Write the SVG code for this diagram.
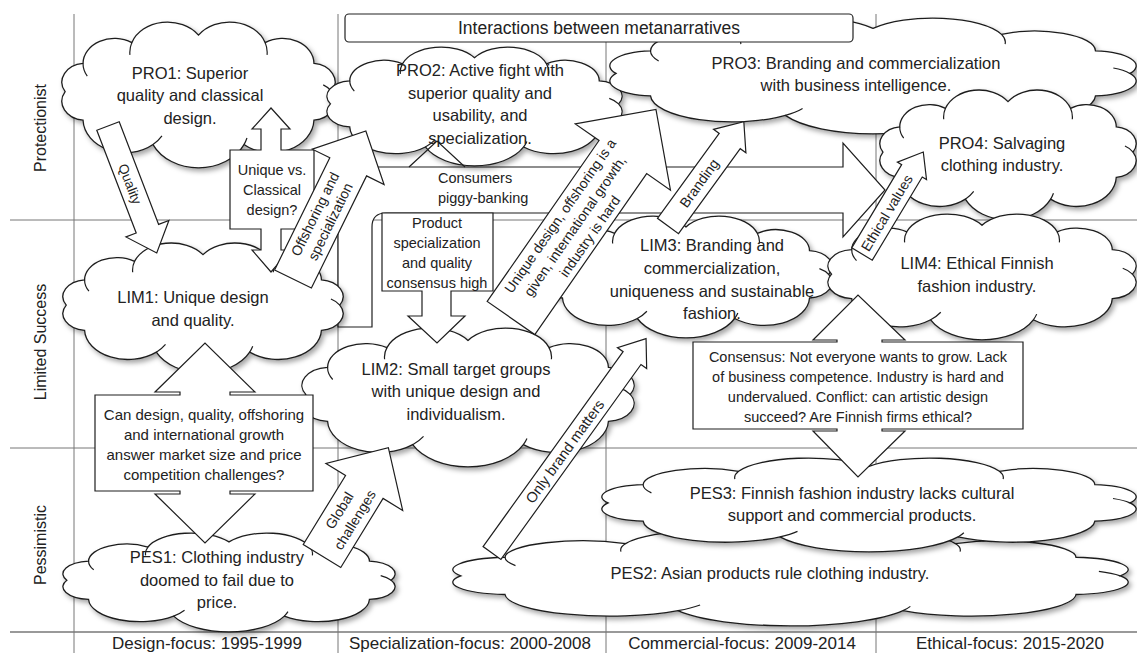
<svg xmlns="http://www.w3.org/2000/svg" width="1137" height="653" viewBox="0 0 1137 653">
<style>
 .grid{stroke:#777;stroke-width:1;fill:none}
 .cl{fill:#fff;stroke:#1e1e1e;stroke-width:1.3}
 .ci{fill:none;stroke:#1e1e1e;stroke-width:1.2}
 .ar{fill:#fff;stroke:#1e1e1e;stroke-width:1.2;stroke-linejoin:miter}
 text{font-family:"Liberation Sans",Arial,sans-serif;fill:#222}
 .c{font-size:16.5px;text-anchor:middle}
 .b{font-size:14.5px;text-anchor:middle}
 .a{font-size:14px;text-anchor:middle}
 .ax{font-size:17px;text-anchor:middle}
 .rl{font-size:16px;text-anchor:middle}
</style>
<defs>
 <filter id="sh" x="-10%" y="-15%" width="125%" height="140%">
  <feDropShadow dx="2.5" dy="3" stdDeviation="2.5" flood-color="#000" flood-opacity="0.35"/>
 </filter>
 <g id="cloud">
  <path class="cl" vector-effect="non-scaling-stroke" d="M15,60 A15,15 0 0,1 26.4,37.5 A20,20 0 0,1 57.5,21 A24,24 0 0,1 100,15 A24,24 0 0,1 142.5,21 A20,20 0 0,1 173.6,37.5 A15,15 0 0,1 185,60 A15,15 0 0,1 173.6,82.5 A27,27 0 0,1 129,102 A32,32 0 0,1 71,102 A27,27 0 0,1 26.4,82.5 A15,15 0 0,1 15,60 Z"/>
  <path class="ci" vector-effect="non-scaling-stroke" d="M26.4,37.5 A20,20 0 0,0 29.1,47.6 M57.5,21 A24,24 0 0,0 56.3,30.7 M142.5,21 A24,24 0 0,1 143.7,30.7 M185,60 A15,15 0 0,0 179.5,54.6 M129,102 A32,32 0 0,0 130.9,96.8 M71,102 A27,27 0 0,0 76.7,95.1"/>
 </g>
</defs>
<rect width="1137" height="653" fill="#fff"/>
<g id="grid" class="grid">
 <line x1="10" y1="220" x2="1137" y2="220"/>
 <line x1="10" y1="448" x2="1137" y2="448"/>
 <line x1="10" y1="632" x2="1137" y2="632" stroke-width="1.5"/>
 <line x1="74" y1="14" x2="74" y2="653"/>
 <line x1="338" y1="14" x2="338" y2="653"/>
 <line x1="606" y1="14" x2="606" y2="653"/>
 <line x1="876" y1="14" x2="876" y2="653"/>
</g>
<g id="row-labels">
 <text class="rl" transform="translate(46,128) rotate(-90)">Protectionist</text>
 <text class="rl" transform="translate(46,342) rotate(-90)">Limited Success</text>
 <text class="rl" transform="translate(46,545) rotate(-90)">Pessimistic</text>
</g>
<g id="column-labels">
 <text class="ax" x="207" y="649">Design-focus: 1995-1999</text>
 <text class="ax" x="470" y="649">Specialization-focus: 2000-2008</text>
 <text class="ax" x="742" y="649">Commercial-focus: 2009-2014</text>
 <text class="ax" x="1010" y="649">Ethical-focus: 2015-2020</text>
</g>
<g id="connectors">
 <g id="arrow-consumers">
  <path class="ar" d="M338,327 L338,190 Q338,167 361,167 L843,167 L843,143 L885,190 L843,237 L843,213 L386,213 Q372,213 372,227 L372,327 Z"/>
  <text x="438" y="183" style="font-size:14.5px">Consumers</text>
  <text x="438" y="203" style="font-size:14.5px">piggy-banking</text>
 </g>
</g>
<g id="PRO1"><g filter="url(#sh)"><use href="#cloud" transform="translate(41.6,16.2) scale(1.569,1.2586)"/></g>
 <text class="c" x="190" y="79">PRO1: Superior</text><text class="c" x="190" y="101">quality and classical</text><text class="c" x="190" y="124">design.</text></g>
<g id="PRO2"><g filter="url(#sh)"><use href="#cloud" transform="translate(305,42.3) scale(1.695,1.026)"/></g>
 <text class="c" x="480" y="76">PRO2: Active fight with</text><text class="c" x="480" y="99">superior quality and</text><text class="c" x="480" y="121">usability, and</text><text class="c" x="480" y="144">specialization.</text></g>
<g id="PRO3"><g filter="url(#sh)"><use href="#cloud" transform="translate(570.7,13.4) scale(3.023,1)"/></g>
 <text class="c" x="856" y="69">PRO3: Branding and commercialization</text><text class="c" x="856" y="91">with business intelligence.</text></g>
<g id="PRO4"><g filter="url(#sh)"><use href="#cloud" transform="translate(860.9,84.8) scale(1.471,1.121)"/></g>
 <text class="c" x="1002" y="149">PRO4: Salvaging</text><text class="c" x="1002" y="171">clothing industry.</text></g>
<g id="title">
 <rect x="345" y="14" width="508" height="28" rx="4" fill="#fff" stroke="#222" stroke-width="1.2"/>
 <text x="599" y="34" style="font-size:17.5px;text-anchor:middle">Interactions between metanarratives</text>
</g>
<g id="LIM1"><g filter="url(#sh)"><use href="#cloud" transform="translate(42.1,237.8) scale(1.609,1.121)"/></g>
 <text class="c" x="193" y="303">LIM1: Unique design</text><text class="c" x="193" y="326">and quality.</text></g>
<g id="LIM2"><g filter="url(#sh)"><use href="#cloud" transform="translate(277.2,322.5) scale(1.908,1.198)"/></g>
 <text class="c" x="456" y="375">LIM2: Small target groups</text><text class="c" x="456" y="397">with unique design and</text><text class="c" x="456" y="420">individualism.</text></g>
<g id="LIM3"><g filter="url(#sh)"><use href="#cloud" transform="translate(518.2,211.2) scale(1.678,1.052)"/></g>
 <text class="c" x="712" y="251">LIM3: Branding and</text><text class="c" x="712" y="274">commercialization,</text><text class="c" x="712" y="297">uniqueness and sustainable</text><text class="c" x="712" y="319">fashion.</text></g>
<g id="LIM4"><g filter="url(#sh)"><use href="#cloud" transform="translate(805,209) scale(1.77,1.086)"/></g>
 <text class="c" x="977" y="269">LIM4: Ethical Finnish</text><text class="c" x="977" y="292">fashion industry.</text></g>
<g id="PES2"><g filter="url(#sh)"><use href="#cloud" transform="translate(402.6,526.2) scale(3.879,0.828)"/></g>
 <text class="c" x="770" y="579">PES2: Asian products rule clothing industry.</text></g>
<g id="PES3"><g filter="url(#sh)"><use href="#cloud" transform="translate(562.1,454.3) scale(3.069,0.81)"/></g>
 <text class="c" x="852" y="499">PES3: Finnish fashion industry lacks cultural</text><text class="c" x="852" y="521">support and commercial products.</text></g>
<g id="PES1"><g filter="url(#sh)"><use href="#cloud" transform="translate(38.2,529.1) scale(1.908,0.853)"/></g>
 <text class="c" x="217" y="563">PES1: Clothing industry</text><text class="c" x="217" y="586">doomed to fail due to</text><text class="c" x="217" y="608">price.</text></g>
<g id="callout-product">
 <polyline class="ar" style="fill:none" points="409,167 437,141 465,167"/>
 <polygon class="ar" points="382,213 493,213 493,291 451,291 451,316 465,316 437,343 408,316 422,316 422,291 382,291"/>
 <text class="b" x="437" y="228">Product</text><text class="b" x="437" y="248">specialization</text><text class="b" x="437" y="268">and quality</text><text class="b" x="437" y="288">consensus high</text>
</g>
<g id="callout-unique">
 <polygon class="ar" points="230,150 261,150 261,129 252,129 271,108 290,129 281,129 281,150 314,150 314,229 281,229 281,250 290,250 271,272 252,250 261,250 261,229 230,229"/>
 <text class="b" x="272" y="175">Unique vs.</text><text class="b" x="272" y="195">Classical</text><text class="b" x="272" y="215">design?</text>
</g>
<g id="arrow-offshoring" transform="translate(293,279) rotate(-63.8)">
 <polygon class="ar" points="0,-20.5 125,-20.5 125,-40 165,0 125,40 125,20.5 0,20.5"/>
 <text class="a" x="68" y="-4">Offshoring and</text><text class="a" x="68" y="13">specialization</text>
</g>
<g id="arrow-quality" transform="translate(108,126) rotate(69)">
 <polygon class="ar" points="0,-12 110,-12 110,-23 136,0 110,23 110,12 0,12"/>
 <text class="a" x="62" y="5" style="font-size:13.5px">Quality</text>
</g>
<g id="callout-candesign">
 <polygon class="ar" points="95,395 180,395 180,392 155,392 205,343 255,392 230,392 230,395 313,395 313,491 230,491 230,494 255,494 205,543 155,494 180,494 180,491 95,491"/>
 <text x="204" y="420" style="font-size:15px;text-anchor:middle">Can design, quality, offshoring</text>
 <text x="204" y="440" style="font-size:15px;text-anchor:middle">and international growth</text>
 <text x="204" y="460" style="font-size:15px;text-anchor:middle">answer market size and price</text>
 <text x="204" y="480" style="font-size:15px;text-anchor:middle">competition challenges?</text>
</g>
<g id="arrow-global" transform="translate(322,556) rotate(-58.5)">
 <polygon class="ar" points="0,-22 81,-22 81,-45 127,0 81,45 81,22 0,22"/>
 <text class="a" x="48" y="-4">Global</text><text class="a" x="48" y="14">challenges</text>
</g>
<g id="callout-consensus">
 <polygon class="ar" points="693,342 837,342 837,340 813,340 858,295 905,340 882,340 882,342 1023,342 1023,429 882,429 882,431 905,431 858,477 813,431 837,431 837,429 693,429"/>
 <text class="b" x="858" y="362">Consensus: Not everyone wants to grow. Lack</text>
 <text class="b" x="858" y="382">of business competence. Industry is hard and</text>
 <text class="b" x="858" y="402">undervalued. Conflict: can artistic design</text>
 <text class="b" x="858" y="422">succeed? Are Finnish firms ethical?</text>
</g>
<g id="arrow-unique-design" transform="translate(511,318) rotate(-55.2)">
 <polygon class="ar" points="0,-29 196,-29 196,-58 254,0 196,58 196,29 0,29"/>
 <text x="112" y="-13" style="font-size:14px;text-anchor:middle">Unique design, offshoring is a</text>
 <text x="112" y="5" style="font-size:14px;text-anchor:middle">given, international growth,</text>
 <text x="112" y="23" style="font-size:14px;text-anchor:middle">industry is hard</text>
</g>
<g id="arrow-only-brand" transform="translate(492,553) rotate(-54.3)">
 <polygon class="ar" points="0,-11 240,-11 240,-18 264,0 240,18 240,11 0,11"/>
 <text class="b" x="125" y="5">Only brand matters</text>
</g>
<g id="arrow-branding" transform="translate(668,226) rotate(-54)">
 <polygon class="ar" points="0,-13 105,-13 105,-20 129,0 105,20 105,13 0,13"/>
 <text class="a" x="53" y="5">Branding</text>
</g>
<g id="arrow-ethical" transform="translate(862,254) rotate(-59)">
 <polygon class="ar" points="0,-12 97,-12 97,-17 119,0 97,17 97,12 0,12"/>
 <text class="a" x="48" y="5">Ethical values</text>
</g>
</svg>
